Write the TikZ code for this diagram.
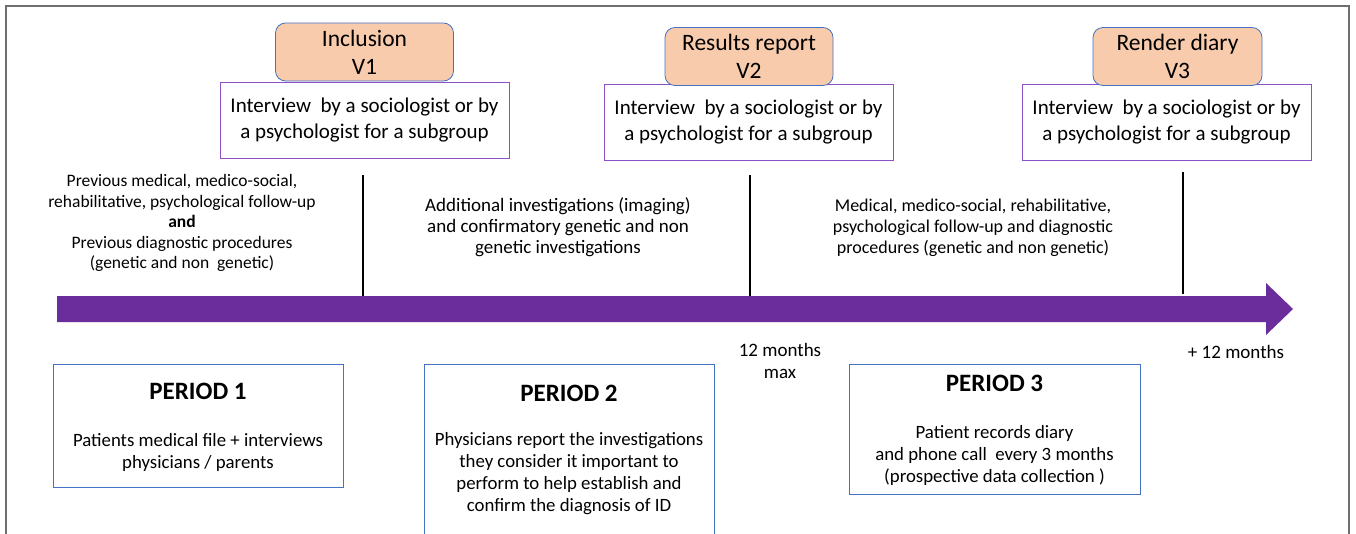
\documentclass[tikz,border=0pt]{standalone}
\usepackage{fontspec}
\setmainfont{Carlito}
\usetikzlibrary{positioning}
\definecolor{orangefill}{RGB}{248,203,173}
\definecolor{orangeedge}{RGB}{68,114,196}
\definecolor{purpleedge}{RGB}{140,80,200}
\definecolor{bluebox}{RGB}{68,114,196}
\definecolor{arrowpurple}{RGB}{106,45,155}
\definecolor{framegrey}{RGB}{110,110,110}
\tikzset{
  visitbox/.style={draw=orangeedge, fill=orangefill, rounded corners=10pt, line width=0.8pt,
    minimum width=#1, minimum height=58pt, align=center, inner sep=0pt,
    font=\fontsize{23.5}{28}\selectfont},
  interviewbox/.style={draw=purpleedge, fill=white, line width=1pt, minimum width=289pt,
    minimum height=76pt, align=center, inner sep=0pt, font=\fontsize{21}{26}\selectfont},
  bodytext/.style={align=center, inner sep=0pt, font=\fontsize{17.5}{20.5}\selectfont},
  ptitle/.style={inner sep=0pt, font=\fontsize{25}{28}\selectfont\bfseries},
  ptext/.style={align=center, inner sep=0pt, font=\fontsize{18.8}{22}\selectfont},
  tick/.style={line width=2.6pt, black},
}
\begin{document}
\begin{tikzpicture}[x=1pt,y=-1pt]
\useasboundingbox (0,0) rectangle (1356,533);
\clip (0,0) rectangle (1356,533);
\fill[white] (0,0) rectangle (1356,533);
% outer frame
\draw[framegrey, line width=1.3pt] (6,540) -- (6,6) -- (1349,6) -- (1349,540);

% interview boxes
\node[interviewbox] (iv1) at (364.5,120) {Interview\ \ by a sociologist or by\\a psychologist for a subgroup};
\node[interviewbox] (iv2) at (748.5,122.5) {Interview\ \ by a sociologist or by\\a psychologist for a subgroup};
\node[interviewbox] (iv3) at (1166.5,122) {Interview\ \ by a sociologist or by\\a psychologist for a subgroup};

% visit boxes
\node[visitbox=178pt] (v1) at (364.5,52) {Inclusion\\V1};
\node[visitbox=168pt] (v2) at (749,56.5) {Results report\\V2};
\node[visitbox=169pt] (v3) at (1177.5,56.5) {Render diary\\V3};

% timeline arrow
\fill[arrowpurple] (57,296) -- (1266,296) -- (1266,283) -- (1293,309) -- (1266,335) -- (1266,322) -- (57,322) -- cycle;
\coordinate (axis1) at (363,296);
\coordinate (axis2) at (750,296);
\coordinate (axis3) at (1183,294);
\coordinate (top1) at (363,175);
\coordinate (top2) at (750,175);
\coordinate (top3) at (1183,172);
\draw[tick] (top1) -- (axis1);
\draw[tick] (top2) -- (axis2);
\draw[tick] (top3) -- (axis3);

% texts above arrow
\node[bodytext] (t1) at (182,223) {Previous medical, medico-social,\\rehabilitative, psychological follow-up\\\textbf{and}\\Previous diagnostic procedures\\(genetic and non\ \ genetic)};
\node[bodytext, font=\fontsize{19}{21}\selectfont] (t2) at (558,227) {Additional investigations (imaging)\\and confirmatory genetic and non\\genetic investigations};
\node[bodytext, font=\fontsize{18}{21}\selectfont] (t3) at (973,228) {Medical, medico-social, rehabilitative,\\psychological follow-up and diagnostic\\procedures (genetic and non genetic)};

% time labels
\node[bodytext, font=\fontsize{19}{22}\selectfont] (m12) at (780,361) {12 months\\max};
\node[bodytext, font=\fontsize{19}{22}\selectfont] (p12) at (1236,352) {+ 12 months};

% period boxes
\draw[bluebox, line width=0.8pt] (53,364) rectangle (343,487);
\node[ptitle] (pt1) at (198,391) {PERIOD 1};
\node[ptext] (px1) at (198,452) {Patients medical file + interviews\\physicians / parents};

\draw[bluebox, line width=0.8pt] (424,540) -- (424,364) -- (714,364) -- (714,540);
\node[ptitle] (pt2) at (569,393) {PERIOD 2};
\node[ptext] (px2) at (569,474) {Physicians report the investigations\\they consider it important to\\perform to help establish and\\confirm the diagnosis of ID};

\draw[bluebox, line width=0.8pt] (849,364) rectangle (1140,494);
\node[ptitle] (pt3) at (994.5,383) {PERIOD 3};
\node[ptext] (px3) at (994.5,455) {Patient records diary\\and phone call\ \ every 3 months\\(prospective data collection )};
\end{tikzpicture}
\end{document}
